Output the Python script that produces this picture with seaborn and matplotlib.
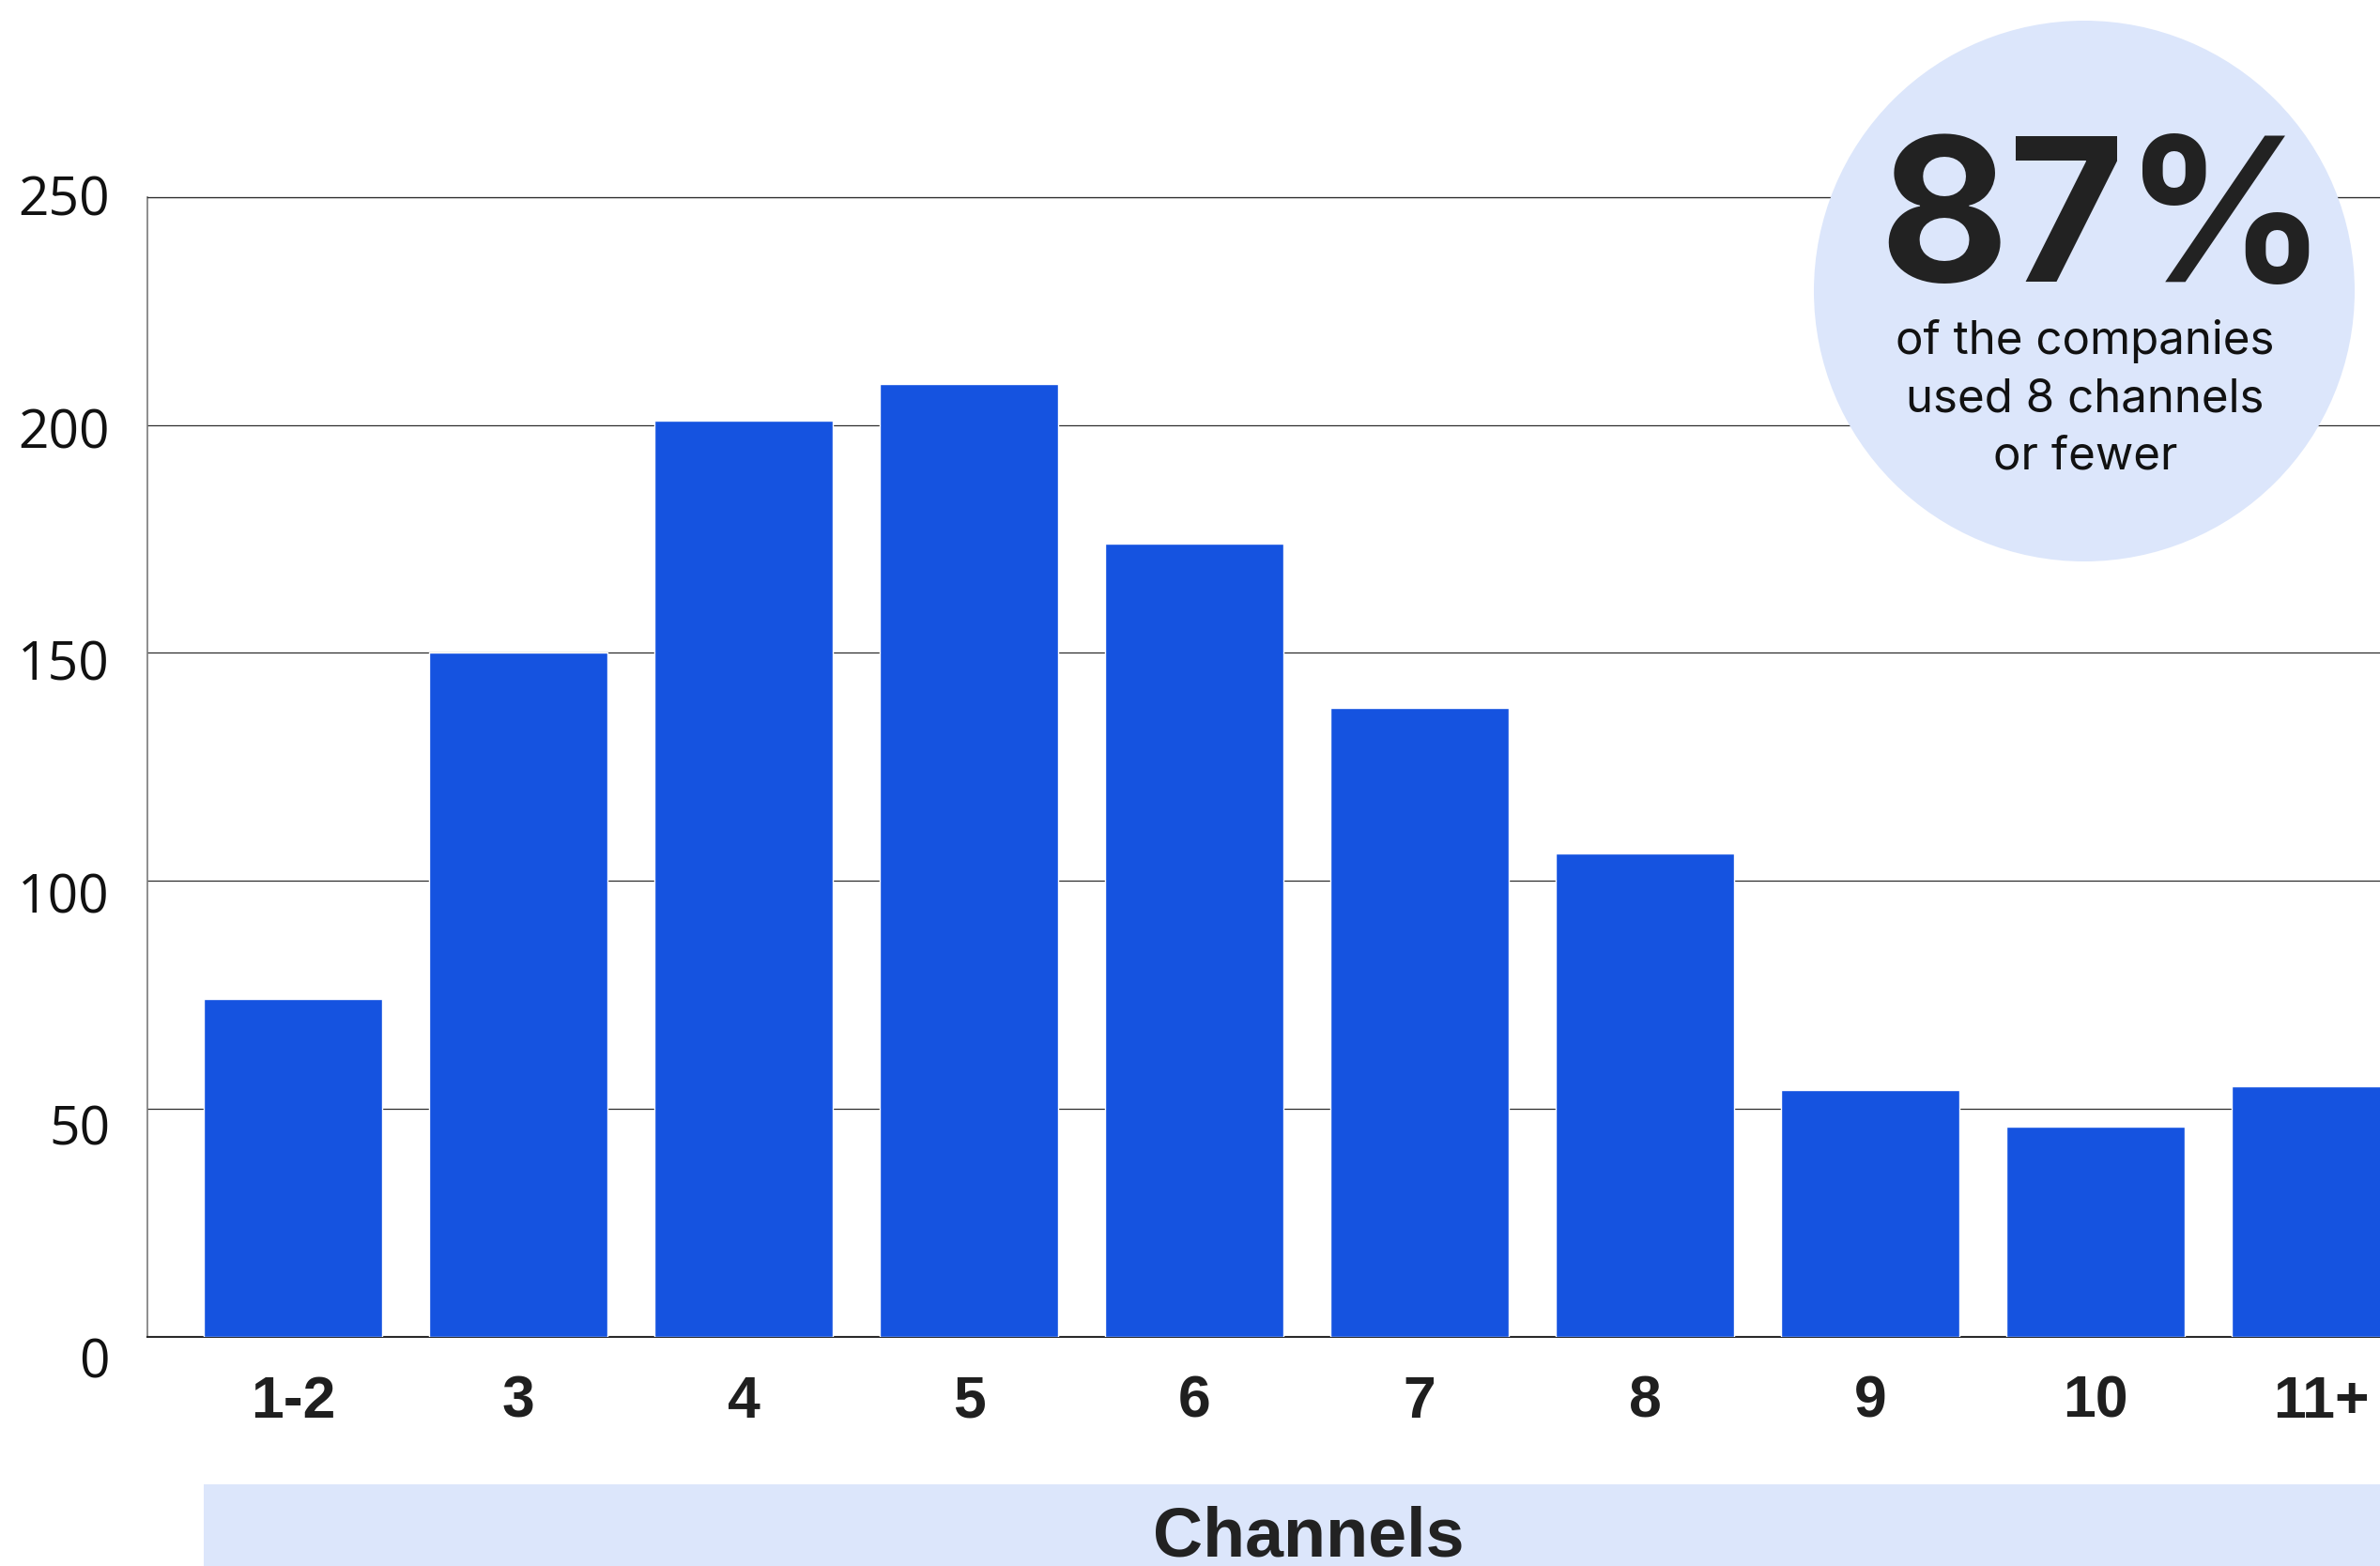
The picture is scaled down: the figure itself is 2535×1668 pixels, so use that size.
import matplotlib
matplotlib.use("Agg")
import matplotlib.pyplot as plt
from matplotlib.patches import Ellipse, Rectangle
import seaborn as sns
import pandas as pd

# Number of marketing channels used, and how many companies used each count
channels = ["1-2", "3", "4", "5", "6", "7", "8", "9", "10", "11+"]
companies = [74, 150, 201, 209, 174, 138, 106, 54, 46, 55]
y_ticks = [0, 50, 100, 150, 200, 250]

headline = "87%"
headline_lines = ["of the companies", "used 8 channels", "or fewer"]
x_title = "Channels"

BAR_BLUE = "#1553E0"
PALE_BLUE = "#DCE6FB"
INK = "#222222"

W, H = 2535, 1668
DPI = 100

sns.set_theme(style="white")
plt.rcParams["font.family"] = ["Liberation Sans", "DejaVu Sans"]

fig = plt.figure(figsize=(W / DPI, H / DPI), dpi=DPI)
fig.patch.set_facecolor("white")


def fx(px):
    return px / W


def fy(py):
    return 1 - py / H


# plot area: left edge at 157 px, zero line at 1423.5 px, top at 210 px
ax = fig.add_axes([fx(157), fy(1423.5), 1 - fx(157), (1423.5 - 210) / H])

df = pd.DataFrame({"channels": channels, "companies": companies})
sns.barplot(data=df, x="channels", y="companies", color=BAR_BLUE,
            saturation=1, width=0.79, ax=ax, zorder=3)

ax.set_xlim(-0.646, 9.2625)
ax.set_ylim(0, 250)
ax.set_xlabel("")
ax.set_ylabel("")

# horizontal guide lines
ax.set_yticks(y_ticks)
ax.set_yticklabels([])
ax.yaxis.grid(True, color="#2e2e2e", linewidth=0.9)
ax.xaxis.grid(False)
ax.set_axisbelow(True)
ax.tick_params(axis="y", length=0)

ax.spines["right"].set_visible(False)
ax.spines["top"].set_color("#2e2e2e")
ax.spines["top"].set_linewidth(0.9)
ax.spines["left"].set_color("#7a7a7a")
ax.spines["left"].set_linewidth(1.2)
ax.spines["bottom"].set_color("#2a2a2a")
ax.spines["bottom"].set_linewidth(1.5)

# y labels drift slightly downward toward the baseline
drift = 0.094
for v in y_ticks:
    dy_px = 20 + drift * (y_ticks[-1] - v)
    ax.annotate(str(v), xy=(0, v), xycoords=("axes fraction", "data"),
                xytext=(-40 * 0.72, -dy_px * 0.72), textcoords="offset points",
                ha="right", va="baseline", fontsize=41, color="#111111",
                family=["Open Sans", "DejaVu Sans"], annotation_clip=False)

# category labels under the bars
ax.tick_params(axis="x", length=0, pad=28.8)
ax.set_xticks(range(len(channels)))
ax.set_xticklabels(channels, fontsize=45, fontweight="bold", color="#1f1f1f",
                   family=["Liberation Sans", "DejaVu Sans"])

# axis title band
fig.patches.append(Rectangle((fx(217), 0), 1 - fx(217), (H - 1581) / H,
                             transform=fig.transFigure, facecolor=PALE_BLUE,
                             edgecolor="none", zorder=1))
fig.text(fx(1394), 10 / H, x_title, ha="center", va="baseline",
         fontsize=53, fontweight="bold", color=INK,
         family=["Liberation Sans", "DejaVu Sans"], zorder=3)

# callout bubble
r = 288
fig.patches.append(Ellipse((fx(2220), fy(310)), 2 * r / W, 2 * r / H,
                           transform=fig.transFigure, facecolor=PALE_BLUE,
                           edgecolor="none", zorder=2))
fig.text(fx(2240), fy(300), headline, ha="center", va="baseline",
         fontsize=153, fontweight="bold", color=INK,
         family=["Inter", "DejaVu Sans"], zorder=3)
for i, line in enumerate(headline_lines):
    fig.text(fx(2221), fy(377 + 61.5 * i), line, ha="center", va="baseline",
             fontsize=35.5, color="#111111",
             family=["Inter", "DejaVu Sans"], zorder=3)

fig.savefig("out.png", dpi=DPI, facecolor="white")
